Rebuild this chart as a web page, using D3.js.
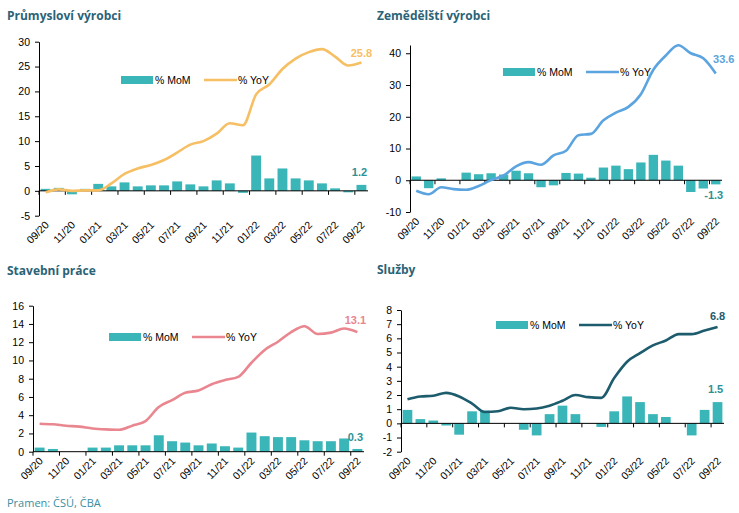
<!DOCTYPE html>
<html>
<head>
<meta charset="utf-8">
<script src="https://cdn.jsdelivr.net/npm/d3@7"></script>
<style>
    body { margin: 0; background: #fff; }
    text { font-family: "Liberation Sans", Arial, sans-serif; }
    .title { font-family: "Open Sans", sans-serif; font-weight: bold; font-size: 12px; fill: #2b6377; }
    .tick text { font-size: 10.5px; fill: #000; }
    .legend text { font-size: 10.5px; fill: #000; }
    .dlabel { font-size: 11px; font-weight: bold; }
</style>
</head>
<body>
<svg id="chart" width="739" height="513"></svg>
<script>
// months on the category axis
const months = ["09/20","10/20","11/20","12/20","01/21","02/21","03/21","04/21","05/21","06/21","07/21","08/21",
    "09/21","10/21","11/21","12/21","01/22","02/22","03/22","04/22","05/22","06/22","07/22","08/22","09/22"];

// Průmysloví výrobci
const prumMoM = [0.4, 0.6, -0.7, 0.4, 1.4, 0.9, 1.7, 0.9, 1.1, 1.1, 1.9, 1.3, 0.9, 2.1, 1.5, -0.4,
    7.1, 2.5, 4.5, 2.5, 2.1, 1.5, 0.5, -0.3, 1.2];
const prumYoY = [-0.3, 0.3, 0.0, 0.1, 0.1, 1.5, 3.4, 4.5, 5.2, 6.2, 7.7, 9.3, 10.0, 11.5, 13.6, 13.2,
    19.4, 21.4, 24.5, 26.6, 27.9, 28.5, 27.0, 25.2, 25.8];
const prumTicks = [-5, 0, 5, 10, 15, 20, 25, 30];

// Zemědělští výrobci
const zemMoM = [1.2, -2.5, 0.6, 0.0, 2.4, 1.9, 2.2, 1.8, 3.0, 2.2, -2.2, -1.6, 2.3, 2.1, 0.8, 4.0,
    4.6, 3.5, 5.6, 8.0, 6.2, 4.6, -3.7, -2.6, -1.3];
const zemYoY = [-3.3, -4.4, -2.2, -2.8, -3.0, -1.8, 0.1, 1.5, 4.4, 5.7, 4.9, 7.8, 9.3, 14.2, 14.6, 18.9,
    21.3, 23.1, 27.1, 34.8, 39.3, 42.5, 40.0, 38.4, 33.6];
const zemTicks = [-10, 0, 10, 20, 30, 40];

// Stavební práce
const stavMoM = [0.45, 0.3, 0, 0, 0.45, 0.45, 0.7, 0.7, 0.7, 1.8, 1.15, 1.0, 0.7, 0.9, 0.6, 0.45,
    2.1, 1.7, 1.6, 1.6, 1.25, 1.15, 1.15, 1.45, 0.3];
const stavYoY = [3.07, 3.0, 2.85, 2.75, 2.55, 2.45, 2.4, 2.85, 3.35, 4.9, 5.65, 6.45, 6.7, 7.4, 7.85, 8.2,
    9.75, 11.15, 12.05, 13.1, 13.75, 12.9, 13.05, 13.5, 13.1];
const stavTicks = [0, 2, 4, 6, 8, 10, 12, 14, 16];

// Služby
const sluzMoM = [0.95, 0.3, 0.2, -0.15, -0.8, 0.85, 0.9, 0, 0, -0.45, -0.85, 0.65, 1.25, 0.65, 0, -0.25,
    0.85, 1.9, 1.5, 0.65, 0.45, 0, -0.85, 0.95, 1.5];
const sluzYoY = [1.7, 1.9, 1.95, 2.15, 1.9, 1.4, 0.8, 0.85, 1.1, 1.0, 1.05, 1.25, 1.6, 2.0, 1.85, 1.8,
    3.2, 4.35, 4.95, 5.5, 5.85, 6.3, 6.3, 6.55, 6.8];
const sluzTicks = [-2, -1, 0, 1, 2, 3, 4, 5, 6, 7, 8];

const barColour = "#3ab5b8";
const momLabelColour = "#2b9296";

const svg = d3.select("#chart");

// panel layout, positions only
const panels = [
    { title: "Průmysloví výrobci", tx: 7, ty: 20, mom: prumMoM, yoy: prumYoY, ticks: prumTicks,
      lineColour: "#f6bf63", x0: 39, x1: 368, yTop: 41.7, yBot: 215.7, dMin: -5, dMax: 30,
      legX: 121, legY: 80, yoyLabelDy: -6, yoyLabelDx: 0, momLabelDy: -9 },
    { title: "Zemědělští výrobci", tx: 377, ty: 20, mom: zemMoM, yoy: zemYoY, ticks: zemTicks,
      lineColour: "#5ba4e0", x0: 410, x1: 722, yTop: 45, yBot: 212, dMin: -10, dMax: 42.6,
      legX: 503, legY: 72, yoyLabelDy: -11, yoyLabelDx: 8, momLabelDy: 15 },
    { title: "Stavební práce", tx: 7, ty: 275, mom: stavMoM, yoy: stavYoY, ticks: stavTicks,
      lineColour: "#e9868f", x0: 33, x1: 364, yTop: 305.7, yBot: 451.7, dMin: 0, dMax: 16,
      legX: 109, legY: 337, yoyLabelDy: -8, yoyLabelDx: -2, momLabelDy: -8 },
    { title: "Služby", tx: 377, ty: 274, mom: sluzMoM, yoy: sluzYoY, ticks: sluzTicks,
      lineColour: "#1d5c6d", x0: 401, x1: 724, yTop: 310, yBot: 451.7, dMin: -2, dMax: 8,
      legX: 496, legY: 325, yoyLabelDy: -7, yoyLabelDx: 0, momLabelDy: -9 }
];

panels.forEach(p => drawPanel(p));

svg.append("text")
    .attr("class", "title")
    .style("font-weight", "normal")
    .style("font-size", "11px")
    .style("fill", "#3a8ea0")
    .attr("x", 7)
    .attr("y", 507)
    .text("Pramen: ČSÚ, ČBA");

function drawPanel(p) {
    const g = svg.append("g");

    g.append("text").attr("class", "title").attr("x", p.tx).attr("y", p.ty).text(p.title);

    const x = d3.scaleBand()
        .domain(months)
        .range([p.x0, p.x1])
        .paddingInner(0.25)
        .paddingOuter(0.125);
    const step = x.step();
    const cx = (d) => x(d) + x.bandwidth() / 2;

    const y = d3.scaleLinear()
        .domain([p.dMin, p.dMax])
        .range([p.yBot, p.yTop]);

    // bars
    g.append("g")
        .selectAll("rect")
        .data(months)
        .join("rect")
        .attr("x", (d) => x(d))
        .attr("width", x.bandwidth())
        .attr("y", (d, i) => Math.min(y(0), y(p.mom[i])))
        .attr("height", (d, i) => Math.abs(y(0) - y(p.mom[i])))
        .attr("fill", barColour);

    // y axis
    const yAxis = g.append("g")
        .attr("transform", `translate(${p.x0},0)`)
        .call(d3.axisLeft(y).tickValues(p.ticks).tickFormat(d => String(d)).tickSize(4).tickPadding(5).tickSizeOuter(0));
    yAxis.select(".domain").attr("stroke", "#000");

    // category axis line at zero
    const y0 = y(0);
    g.append("line")
        .attr("x1", p.x0).attr("x2", p.x1)
        .attr("y1", y0).attr("y2", y0)
        .attr("stroke", "#000");
    g.append("g")
        .selectAll("line")
        .data(months.filter((d, i) => i % 2 === 0))
        .join("line")
        .attr("x1", (d) => x(d) - step * 0.125)
        .attr("x2", (d) => x(d) - step * 0.125)
        .attr("y1", y0).attr("y2", y0 + 4)
        .attr("stroke", "#000");

    // rotated month labels below the plot
    g.append("g")
        .selectAll("text")
        .data(months.filter((d, i) => i % 2 === 0))
        .join("text")
        .attr("class", "tick")
        .attr("text-anchor", "end")
        .style("font-size", "10.5px")
        .attr("transform", (d) => `translate(${cx(d) + 4},${p.yBot + 10}) rotate(-45)`)
        .text((d) => d);

    // YoY line
    const line = d3.line()
        .x((d, i) => cx(months[i]))
        .y((d) => y(d))
        .curve(d3.curveMonotoneX);
    g.append("path")
        .datum(p.yoy)
        .attr("d", line)
        .attr("fill", "none")
        .attr("stroke", p.lineColour)
        .attr("stroke-width", 2.6);

    // end labels
    const last = months.length - 1;
    const lastX = cx(months[last]);
    g.append("text")
        .attr("class", "dlabel")
        .attr("text-anchor", "middle")
        .attr("x", lastX + p.yoyLabelDx)
        .attr("y", y(p.yoy[last]) + p.yoyLabelDy)
        .attr("fill", p.lineColour)
        .text(p.yoy[last].toFixed(1));
    const momVal = p.mom[last];
    g.append("text")
        .attr("class", "dlabel")
        .attr("text-anchor", "middle")
        .attr("x", lastX - 2)
        .attr("y", y(momVal) + p.momLabelDy)
        .attr("fill", momLabelColour)
        .text(momVal.toFixed(1));

    // legend
    const leg = g.append("g").attr("class", "legend").attr("transform", `translate(${p.legX},${p.legY})`);
    leg.append("rect").attr("x", 0).attr("y", -4).attr("width", 32).attr("height", 8).attr("fill", barColour);
    leg.append("text").attr("x", 34).attr("y", 4).text("% MoM");
    leg.append("line").attr("x1", 83).attr("x2", 116).attr("y1", 0).attr("y2", 0)
        .attr("stroke", p.lineColour).attr("stroke-width", 2.6);
    leg.append("text").attr("x", 117).attr("y", 4).text("% YoY");
}
</script>
</body>
</html>
